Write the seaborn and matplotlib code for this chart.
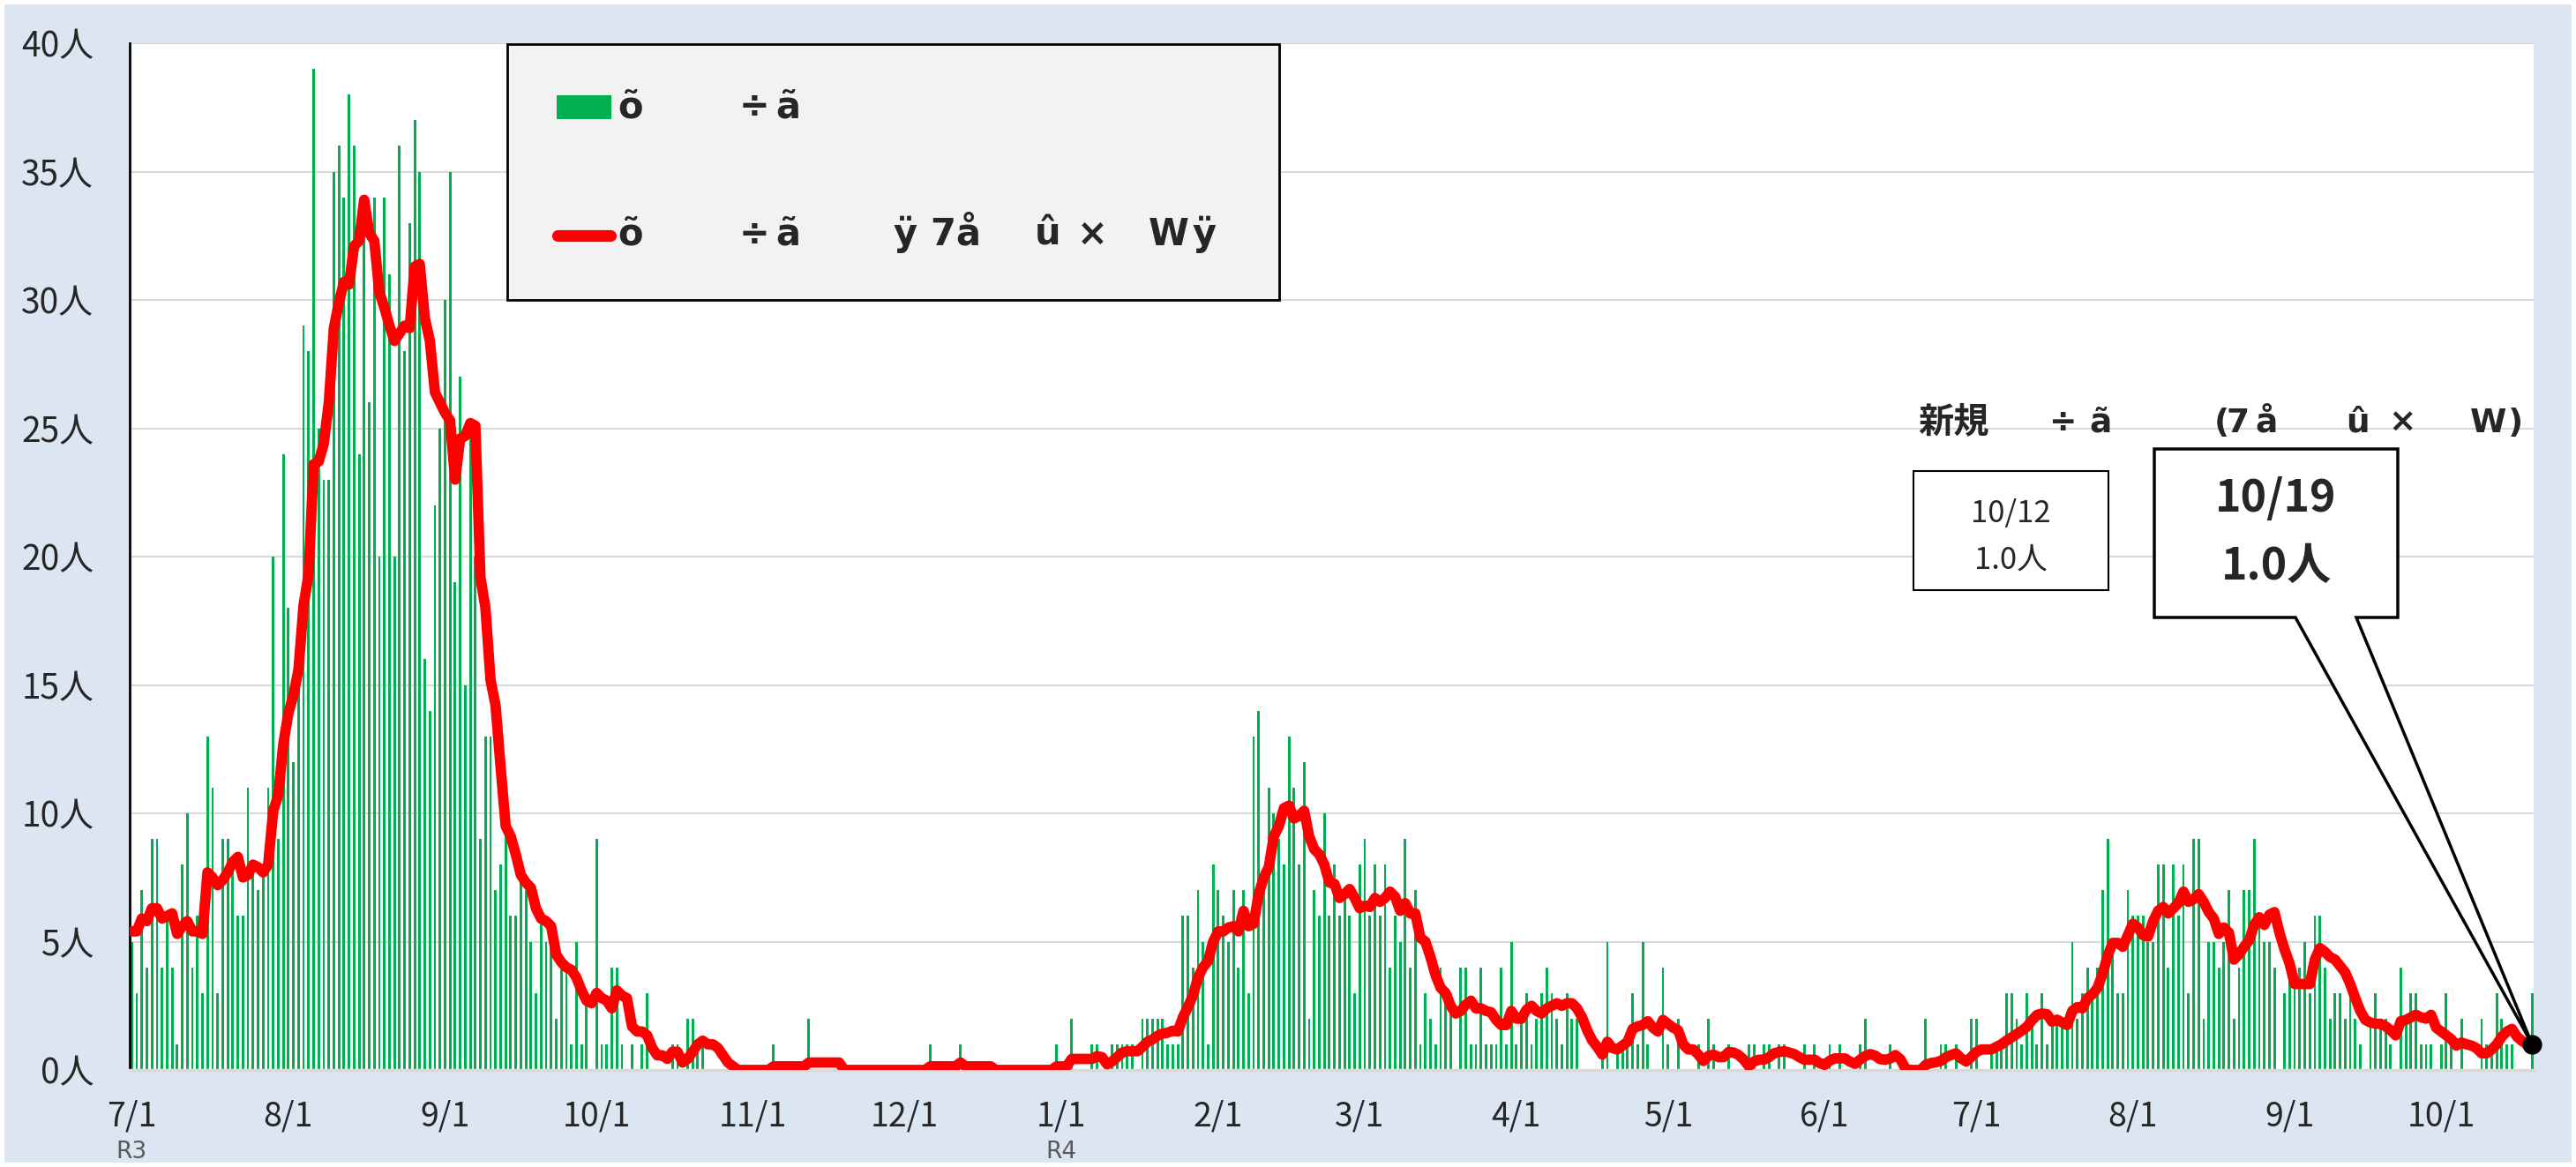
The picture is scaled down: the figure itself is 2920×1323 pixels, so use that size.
import pandas as pd
import matplotlib.pyplot as plt
import seaborn as sns
from matplotlib.patches import Rectangle, Polygon
from matplotlib.lines import Line2D
from matplotlib.transforms import Affine2D

sns.set_style("white")
plt.rcParams['font.family'] = ['Noto Sans CJK JP', 'DejaVu Sans']

# 日別の新規陽性者数 (R3/7/1 から)
cases_2021_07 = [5,3,7,4,9,9,4,6,4,1,8,10,4,6,3,13,11,3,9,9,8,6,6,11,8,7,8,11,20,9,24]
cases_2021_08 = [18,12,15,29,28,39,25,23,23,35,36,34,38,36,24,34,26,34,20,34,31,20,36,28,33,37,35,16,14,22,25]
cases_2021_09 = [30,35,19,27,15,25,20,9,13,13,7,8,10,6,6,8,7,5,3,6,5,5,2,4,4,1,5,1,3,0]
cases_2021_10 = [9,1,1,4,4,1,0,1,0,1,3,0,0,0,0,1,1,0,2,2,1,1,0,0,0,0,0,0,0,0,0]
cases_2021_11 = [0,0,0,0,1,0,0,0,0,0,0,2,0,0,0,0,0,0,0,0,0,0,0,0,0,0,0,0,0,0]
cases_2021_12 = [0,0,0,0,0,1,0,0,0,0,0,1,0,0,0,0,0,0,0,0,0,0,0,0,0,0,0,0,0,0,1]
cases_2022_01 = [0,0,2,0,0,0,1,1,0,0,1,1,1,1,1,0,2,2,2,2,2,1,1,1,6,6,4,7,5,1,8]
cases_2022_02 = [7,6,5,7,4,7,3,13,14,7,11,10,9,8,13,11,8,12,2,7,6,10,6,8,6,7,6,3]
cases_2022_03 = [8,9,6,8,6,8,4,6,5,9,4,7,1,3,2,1,4,3,3,0,4,4,1,1,4,1,1,1,4,1,5]
cases_2022_04 = [1,2,3,1,2,3,4,3,2,1,3,2,2,0,0,0,0,1,5,0,1,1,1,3,1,5,1,0,0,4]
cases_2022_05 = [1,0,2,0,0,0,1,0,2,1,0,0,1,0,0,0,1,1,0,1,1,0,1,1,0,0,0,1,0,1,0]
cases_2022_06 = [0,1,0,1,0,0,0,1,2,0,0,0,0,1,0,0,0,0,0,0,2,0,0,1,1,0,1,0,0,2]
cases_2022_07 = [2,0,0,1,1,1,3,3,2,1,3,2,1,3,1,2,2,2,2,5,2,3,4,3,4,7,9,5,3,3,7]
cases_2022_08 = [6,6,6,5,5,8,8,4,8,6,8,3,9,9,2,5,5,4,5,7,2,4,7,7,9,6,5,5,4,0,3]
cases_2022_09 = [4,4,4,5,3,6,6,4,2,3,3,2,3,2,1,0,2,3,2,2,1,0,4,2,3,3,1,1,1,0]
cases_2022_10 = [1,3,1,0,2,0,0,0,2,1,1,3,2,1,1,0,0,0,3]

# 7日間平均
avg_2021_07 = [5.4,5.4,5.9,5.8,6.3,6.3,5.9,6.0,6.1,5.3,5.6,5.8,5.4,5.4,5.3,7.7,7.5,7.2,7.4,7.7,8.1,8.3,7.5,7.6,8.0,7.9,7.7,8.0,10.1,10.7,12.7]
avg_2021_08 = [13.9,14.6,15.6,18.1,19.3,23.6,23.7,24.4,26.0,28.9,29.9,30.7,30.6,32.1,32.3,33.9,32.6,32.3,30.3,29.7,29.0,28.4,28.7,29.0,28.9,31.3,31.4,29.3,28.4,26.4,26.0]
avg_2021_09 = [25.6,25.3,23.0,24.6,24.7,25.2,25.1,19.2,18.0,15.2,14.2,11.8,9.5,9.1,8.4,7.6,7.3,7.1,6.3,5.9,5.8,5.6,4.5,4.2,4.0,3.9,3.6,3.1,2.7,2.6]
avg_2021_10 = [3.0,2.8,2.7,2.4,3.1,2.9,2.8,1.7,1.5,1.5,1.35,0.86,0.57,0.57,0.43,0.71,0.71,0.29,0.43,0.71,1.0,1.14,1.0,1.0,0.86,0.57,0.29,0.14,0,0,0]
avg_2021_11 = [0,0,0,0,0.14,0.14,0.14,0.14,0.14,0.14,0.14,0.29,0.29,0.29,0.29,0.29,0.29,0.29,0,0,0,0,0,0,0,0,0,0,0,0]
avg_2021_12 = [0,0,0,0,0,0.14,0.14,0.14,0.14,0.14,0.14,0.29,0.14,0.14,0.14,0.14,0.14,0.14,0,0,0,0,0,0,0,0,0,0,0,0,0.14]
avg_2022_01 = [0.14,0.14,0.43,0.43,0.43,0.43,0.43,0.54,0.5,0.22,0.33,0.5,0.68,0.73,0.73,0.73,0.9,1.1,1.19,1.33,1.42,1.45,1.53,1.5,2.05,2.45,2.9,3.6,4.0,4.25,5.0]
avg_2022_02 = [5.4,5.4,5.55,5.6,5.4,6.2,5.6,5.7,6.85,7.5,7.9,9.1,9.5,10.2,10.3,9.8,9.9,10.1,9.1,8.6,8.4,8.0,7.3,7.25,6.7,6.85,7.05,6.7]
avg_2022_03 = [6.3,6.4,6.35,6.7,6.55,6.7,6.95,6.75,6.2,6.5,6.1,6.1,5.15,5.0,4.4,3.7,3.2,3.0,2.5,2.2,2.3,2.55,2.7,2.4,2.4,2.3,2.25,1.95,1.75,1.75,2.3]
avg_2022_04 = [2.0,2.0,2.35,2.5,2.3,2.2,2.4,2.5,2.6,2.5,2.6,2.6,2.4,2.05,1.55,1.15,0.9,0.6,1.1,0.85,0.8,0.95,1.1,1.6,1.7,1.75,1.9,1.65,1.5,1.95]
avg_2022_05 = [1.8,1.65,1.55,1.0,0.8,0.8,0.6,0.35,0.55,0.6,0.5,0.5,0.7,0.68,0.58,0.4,0.15,0.33,0.4,0.4,0.5,0.65,0.7,0.73,0.68,0.62,0.5,0.4,0.4,0.4,0.27]
avg_2022_06 = [0.2,0.36,0.45,0.45,0.45,0.33,0.24,0.4,0.54,0.62,0.56,0.42,0.4,0.45,0.58,0.42,0.05,0,0,0,0.2,0.27,0.3,0.35,0.5,0.58,0.65,0.45,0.33,0.5]
avg_2022_07 = [0.7,0.8,0.8,0.8,0.9,1.0,1.15,1.27,1.4,1.53,1.68,1.93,2.14,2.2,2.17,1.88,1.96,1.85,1.75,2.3,2.45,2.4,2.8,2.95,3.2,3.75,4.45,4.95,4.95,4.8,5.25]
avg_2022_08 = [5.7,5.55,5.25,5.2,5.8,6.2,6.35,6.1,6.3,6.5,6.95,6.55,6.65,6.85,6.55,6.15,5.9,5.3,5.55,5.35,4.3,4.5,4.8,5.05,5.65,5.95,5.65,6.05,6.15,5.35,4.7]
avg_2022_09 = [4.15,3.35,3.35,3.35,3.35,4.3,4.75,4.6,4.4,4.3,4.05,3.8,3.35,2.8,2.3,1.95,1.85,1.8,1.8,1.7,1.55,1.35,1.9,1.95,2.05,2.15,2.05,2.0,2.15,1.65]
avg_2022_10 = [1.5,1.35,1.2,0.95,1.07,1.0,0.95,0.85,0.65,0.65,0.8,1.0,1.3,1.5,1.6,1.3,1.13,1.0,1.0]

tick_dates = ["2021-07-01","2021-08-01","2021-09-01","2021-10-01","2021-11-01","2021-12-01",
              "2022-01-01","2022-02-01","2022-03-01","2022-04-01","2022-05-01","2022-06-01",
              "2022-07-01","2022-08-01","2022-09-01","2022-10-01"]
tick_labels = ["7/1","8/1","9/1","10/1","11/1","12/1","1/1","2/1","3/1","4/1","5/1","6/1",
               "7/1","8/1","9/1","10/1"]
era_labels = [("2021-07-01", "R3"), ("2022-01-01", "R4")]

cases = (cases_2021_07 + cases_2021_08 + cases_2021_09 + cases_2021_10 + cases_2021_11 + cases_2021_12
         + cases_2022_01 + cases_2022_02 + cases_2022_03 + cases_2022_04 + cases_2022_05 + cases_2022_06
         + cases_2022_07 + cases_2022_08 + cases_2022_09 + cases_2022_10)
avg = (avg_2021_07 + avg_2021_08 + avg_2021_09 + avg_2021_10 + avg_2021_11 + avg_2021_12
       + avg_2022_01 + avg_2022_02 + avg_2022_03 + avg_2022_04 + avg_2022_05 + avg_2022_06
       + avg_2022_07 + avg_2022_08 + avg_2022_09 + avg_2022_10)

start = pd.Timestamp("2021-07-01")
df = pd.DataFrame({"day": range(len(cases)), "cases": cases, "avg": avg})
tick_pos = [(pd.Timestamp(d) - start).days for d in tick_dates]

W, H = 2920, 1323
fig = plt.figure(figsize=(W / 100, H / 100), dpi=100, facecolor="white")
# pixel coords (origin top-left)
pix = Affine2D().scale(1 / W, -1 / H).translate(0, 1) + fig.transFigure

fig.add_artist(Rectangle((5, 5), W - 10, H - 10, transform=pix, facecolor="#DCE6F2",
                         edgecolor="none", zorder=-1))

ax = fig.add_axes([147 / W, 1 - 1213 / H, (2872 - 147) / W, (1213 - 49) / H])
ax.set_facecolor("white")
sns.barplot(data=df, x="day", y="cases", color="#00B050", saturation=1, width=0.5,
            linewidth=0, ax=ax, zorder=2)
sns.lineplot(data=df, x="day", y="avg", color="#FF0000", lw=8.5, errorbar=None, ax=ax,
             zorder=3, solid_capstyle="round", solid_joinstyle="round")

ax.set_xlim(-0.4, len(cases) - 0.7)
ax.set_ylim(0, 40)
ax.set_yticks(range(0, 41, 5))
ax.set_yticklabels([f"{v}人" for v in range(0, 41, 5)], fontsize=28)
ax.set_xticks(tick_pos)
ax.set_xticklabels(tick_labels, fontsize=27)
ax.tick_params(axis="x", length=0, pad=24)
ax.tick_params(axis="y", length=9.4, width=2, direction="out", pad=20, color="black")
ax.yaxis.grid(True, color="#D9D9D9", lw=1.5)
ax.set_axisbelow(True)
for s in ["top", "right"]:
    ax.spines[s].set_visible(False)
ax.spines["left"].set_color("black")
ax.spines["left"].set_linewidth(2)
ax.spines["bottom"].set_color("#D9D9D9")
ax.spines["bottom"].set_linewidth(2.5)
ax.set_xlabel("")
ax.set_ylabel("")

for d, lab in era_labels:
    x = ax.transData.transform(((pd.Timestamp(d) - start).days, 0))[0]
    fig.text(x, 1306, lab, transform=pix, ha="center", va="center", fontsize=19,
             color="#595959", family=["DejaVu Sans"])

# 凡例
fig.add_artist(Rectangle((575, 50), 875, 290, transform=pix, facecolor="#F2F2F2",
                         edgecolor="black", lw=2, zorder=5))
fig.add_artist(Rectangle((631, 108), 62, 27, transform=pix, facecolor="#00B050",
                         edgecolor="none", zorder=6))
fig.add_artist(Line2D([632, 692], [267, 267], transform=pix, color="#FF0000", lw=9.5,
                      solid_capstyle="round", zorder=6))
bold = dict(transform=pix, ha="left", va="baseline", fontweight="bold",
            family=["DejaVu Sans"], zorder=7)
for txt, x in [("õ", 700), ("÷", 838), ("ã", 879)]:
    fig.text(x, 133, txt, fontsize=30, **bold)
for txt, x in [("õ", 700), ("÷", 838), ("ã", 879), ("ÿ", 1013), ("7", 1054), ("å", 1083),
               ("û", 1173), ("×", 1221), ("W", 1302), ("ÿ", 1352)]:
    fig.text(x, 278, txt, fontsize=30, **bold)

# タイトル
fig.text(2174, 490, "新規", transform=pix, ha="left", va="baseline", fontsize=29,
         fontweight="bold", family=["Noto Sans CJK JP"], zorder=7)
for txt, x in [("÷", 2323), ("ã", 2368), ("(", 2510), ("7", 2524), ("å", 2556),
               ("û", 2659), ("×", 2707), ("W", 2800), (")", 2843)]:
    fig.text(x, 490, txt, fontsize=27, **bold)

# 前週の値
fig.add_artist(Rectangle((2169, 534), 221, 135, transform=pix, facecolor="white",
                         edgecolor="black", lw=1.5, zorder=5))
fig.text(2279, 583, "10/12", transform=pix, ha="center", va="center", fontsize=25, zorder=7)
fig.text(2279, 635, f"{avg[-8]:.1f}人", transform=pix, ha="center", va="center", fontsize=25, zorder=7)

# 最新値の吹き出し
tx, ty = ax.transData.transform((df["day"].iloc[-1], avg[-1]))
ty = H - ty
callout = [(2442, 509), (2718, 509), (2718, 700), (2671, 700), (tx, ty), (2602, 700), (2442, 700)]
fig.add_artist(Polygon(callout, closed=True, transform=pix, facecolor="white",
                       edgecolor="black", lw=2.5, joinstyle="miter", zorder=5))
fig.text(2580, 565, "10/19", transform=pix, ha="center", va="center", fontsize=36,
         fontweight="bold", zorder=7)
fig.text(2580, 642, f"{avg[-1]:.1f}人", transform=pix, ha="center", va="center", fontsize=36,
         fontweight="bold", zorder=7)
fig.add_artist(Line2D([tx], [ty], transform=pix, marker="o", ms=15, color="black", zorder=8))

fig.savefig("out.png", dpi=100)
